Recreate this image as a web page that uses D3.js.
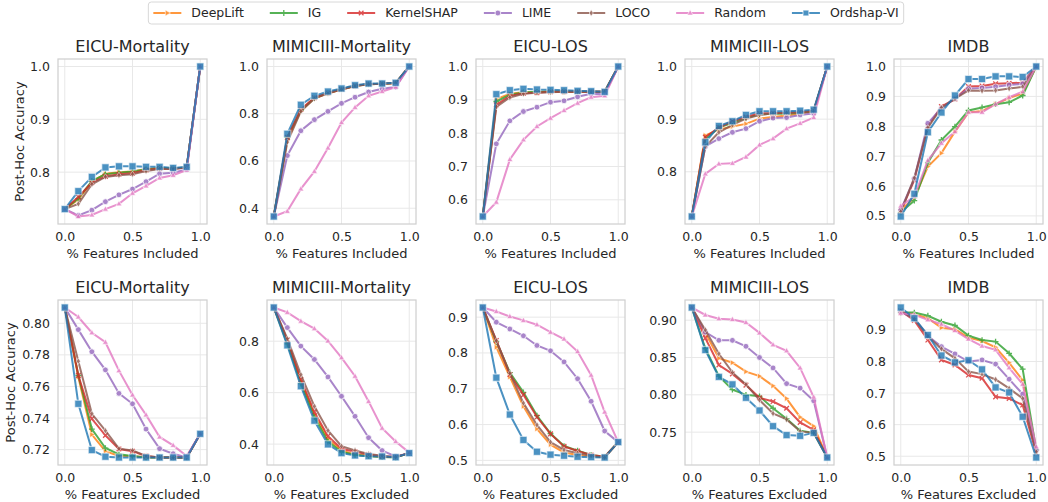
<!DOCTYPE html>
<html>
<head>
<meta charset="utf-8">
<script src="https://cdn.jsdelivr.net/npm/d3@7"></script>
<style>
  body { margin: 0; background: #fff; }
  svg { font-family: "DejaVu Sans", sans-serif; }
</style>
</head>
<body>
<svg id="chart" width="1048" height="502"></svg>
<script>
// fraction of features kept / removed
var fractions = [0, 0.1, 0.2, 0.3, 0.4, 0.5, 0.6, 0.7, 0.8, 0.9, 1.0];

var methods = ["DeepLift", "IG", "KernelSHAP", "LIME", "LOCO", "Random", "Ordshap-VI"];
var colors = ["#ff7f0e", "#2ca02c", "#d62728", "#9467bd", "#8c564b", "#e377c2", "#1f77b4"];
var markers = ["tri-right", "plus", "x", "circle", "diamond", "tri-up", "square"];

var datasets = ["EICU-Mortality", "MIMICIII-Mortality", "EICU-LOS", "MIMICIII-LOS", "IMDB"];

// ---- included (top row), one array per method, order as in methods ----
var incEicuMort = [
  [0.730, 0.748, 0.782, 0.797, 0.800, 0.801, 0.806, 0.808, 0.807, 0.809, 1.0],
  [0.730, 0.750, 0.783, 0.796, 0.799, 0.801, 0.805, 0.808, 0.807, 0.809, 1.0],
  [0.730, 0.753, 0.780, 0.792, 0.796, 0.798, 0.804, 0.807, 0.806, 0.809, 1.0],
  [0.730, 0.718, 0.728, 0.744, 0.757, 0.768, 0.782, 0.797, 0.799, 0.805, 1.0],
  [0.730, 0.740, 0.777, 0.791, 0.794, 0.796, 0.802, 0.806, 0.806, 0.809, 1.0],
  [0.730, 0.716, 0.719, 0.730, 0.740, 0.760, 0.774, 0.789, 0.794, 0.804, 1.0],
  [0.730, 0.764, 0.791, 0.809, 0.811, 0.811, 0.810, 0.810, 0.808, 0.810, 1.0]
];
var incMimicMort = [
  [0.365, 0.690, 0.812, 0.865, 0.887, 0.903, 0.917, 0.925, 0.927, 0.930, 1.0],
  [0.365, 0.700, 0.815, 0.866, 0.888, 0.904, 0.918, 0.925, 0.927, 0.930, 1.0],
  [0.365, 0.700, 0.818, 0.868, 0.888, 0.904, 0.918, 0.926, 0.927, 0.930, 1.0],
  [0.365, 0.623, 0.728, 0.775, 0.810, 0.844, 0.870, 0.892, 0.906, 0.913, 1.0],
  [0.365, 0.680, 0.810, 0.864, 0.886, 0.903, 0.917, 0.925, 0.927, 0.930, 1.0],
  [0.365, 0.387, 0.482, 0.556, 0.655, 0.763, 0.827, 0.876, 0.894, 0.913, 1.0],
  [0.365, 0.715, 0.838, 0.876, 0.894, 0.907, 0.921, 0.928, 0.928, 0.931, 1.0]
];
var incEicuLos = [
  [0.550, 0.902, 0.918, 0.923, 0.923, 0.925, 0.925, 0.924, 0.924, 0.924, 1.0],
  [0.550, 0.895, 0.915, 0.922, 0.924, 0.925, 0.925, 0.924, 0.924, 0.924, 1.0],
  [0.550, 0.885, 0.912, 0.920, 0.921, 0.924, 0.924, 0.924, 0.924, 0.924, 1.0],
  [0.550, 0.768, 0.837, 0.865, 0.878, 0.893, 0.897, 0.909, 0.918, 0.917, 1.0],
  [0.550, 0.879, 0.907, 0.918, 0.921, 0.923, 0.924, 0.924, 0.924, 0.924, 1.0],
  [0.550, 0.593, 0.721, 0.780, 0.820, 0.845, 0.868, 0.890, 0.908, 0.912, 1.0],
  [0.550, 0.917, 0.929, 0.933, 0.931, 0.930, 0.929, 0.927, 0.926, 0.924, 1.0]
];
var incMimicLos = [
  [0.715, 0.869, 0.880, 0.886, 0.891, 0.901, 0.904, 0.907, 0.910, 0.915, 1.0],
  [0.715, 0.862, 0.884, 0.893, 0.902, 0.909, 0.910, 0.910, 0.912, 0.915, 1.0],
  [0.715, 0.866, 0.884, 0.896, 0.904, 0.911, 0.911, 0.912, 0.913, 0.916, 1.0],
  [0.715, 0.848, 0.863, 0.875, 0.882, 0.896, 0.902, 0.903, 0.908, 0.911, 1.0],
  [0.715, 0.848, 0.875, 0.889, 0.901, 0.908, 0.911, 0.912, 0.913, 0.915, 1.0],
  [0.715, 0.796, 0.815, 0.816, 0.828, 0.851, 0.863, 0.882, 0.892, 0.903, 1.0],
  [0.715, 0.856, 0.887, 0.896, 0.908, 0.915, 0.915, 0.915, 0.916, 0.918, 1.0]
];
var incImdb = [
  [0.520, 0.560, 0.665, 0.710, 0.782, 0.846, 0.851, 0.874, 0.894, 0.910, 1.0],
  [0.512, 0.551, 0.678, 0.754, 0.799, 0.853, 0.863, 0.874, 0.880, 0.903, 1.0],
  [0.515, 0.620, 0.800, 0.866, 0.891, 0.933, 0.935, 0.942, 0.944, 0.946, 1.0],
  [0.520, 0.625, 0.810, 0.860, 0.893, 0.926, 0.928, 0.932, 0.938, 0.942, 1.0],
  [0.514, 0.627, 0.795, 0.862, 0.892, 0.920, 0.919, 0.920, 0.926, 0.932, 1.0],
  [0.533, 0.565, 0.686, 0.743, 0.782, 0.847, 0.847, 0.874, 0.897, 0.916, 1.0],
  [0.498, 0.574, 0.780, 0.846, 0.903, 0.958, 0.958, 0.967, 0.967, 0.965, 1.0]
];

// ---- excluded (bottom row) ----
var excEicuMort = [
  [0.810, 0.766, 0.7295, 0.719, 0.716, 0.716, 0.715, 0.715, 0.715, 0.715, 0.730],
  [0.810, 0.767, 0.733, 0.721, 0.717, 0.716, 0.715, 0.715, 0.715, 0.715, 0.730],
  [0.810, 0.767, 0.7395, 0.729, 0.7204, 0.719, 0.716, 0.715, 0.715, 0.715, 0.730],
  [0.810, 0.796, 0.782, 0.7705, 0.7556, 0.749, 0.733, 0.7206, 0.7174, 0.715, 0.730],
  [0.810, 0.776, 0.7427, 0.732, 0.7206, 0.7195, 0.716, 0.715, 0.715, 0.715, 0.730],
  [0.810, 0.804, 0.794, 0.788, 0.770, 0.7546, 0.742, 0.728, 0.7227, 0.716, 0.730],
  [0.810, 0.749, 0.7197, 0.7155, 0.715, 0.715, 0.715, 0.715, 0.715, 0.715, 0.730]
];
var excMimicMort = [
  [0.931, 0.800, 0.645, 0.515, 0.420, 0.375, 0.360, 0.355, 0.350, 0.350, 0.365],
  [0.931, 0.790, 0.635, 0.505, 0.410, 0.370, 0.358, 0.354, 0.350, 0.348, 0.365],
  [0.931, 0.805, 0.651, 0.525, 0.431, 0.382, 0.370, 0.360, 0.352, 0.350, 0.365],
  [0.931, 0.853, 0.781, 0.729, 0.661, 0.586, 0.508, 0.425, 0.375, 0.352, 0.365],
  [0.931, 0.810, 0.670, 0.547, 0.453, 0.392, 0.375, 0.362, 0.355, 0.350, 0.365],
  [0.931, 0.912, 0.878, 0.849, 0.801, 0.736, 0.664, 0.566, 0.462, 0.410, 0.367],
  [0.931, 0.784, 0.625, 0.491, 0.399, 0.365, 0.356, 0.353, 0.352, 0.349, 0.365]
];
var excEicuLos = [
  [0.927, 0.816, 0.733, 0.651, 0.588, 0.544, 0.522, 0.515, 0.512, 0.508, 0.551],
  [0.927, 0.832, 0.745, 0.690, 0.625, 0.575, 0.540, 0.527, 0.515, 0.510, 0.551],
  [0.927, 0.835, 0.740, 0.683, 0.621, 0.574, 0.539, 0.526, 0.515, 0.510, 0.551],
  [0.927, 0.886, 0.867, 0.848, 0.821, 0.806, 0.775, 0.728, 0.665, 0.582, 0.551],
  [0.927, 0.834, 0.743, 0.660, 0.599, 0.551, 0.529, 0.520, 0.513, 0.508, 0.551],
  [0.927, 0.916, 0.902, 0.891, 0.879, 0.858, 0.839, 0.804, 0.738, 0.635, 0.551],
  [0.927, 0.731, 0.628, 0.557, 0.524, 0.516, 0.513, 0.510, 0.509, 0.508, 0.551]
];
var excMimicLos = [
  [0.917, 0.883, 0.849, 0.843, 0.831, 0.825, 0.812, 0.795, 0.770, 0.758, 0.716],
  [0.917, 0.862, 0.825, 0.807, 0.800, 0.798, 0.782, 0.768, 0.752, 0.749, 0.716],
  [0.917, 0.876, 0.840, 0.828, 0.813, 0.796, 0.791, 0.782, 0.763, 0.753, 0.716],
  [0.917, 0.884, 0.873, 0.873, 0.865, 0.850, 0.836, 0.815, 0.809, 0.792, 0.716],
  [0.917, 0.887, 0.855, 0.830, 0.814, 0.793, 0.775, 0.767, 0.751, 0.749, 0.716],
  [0.917, 0.907, 0.902, 0.901, 0.897, 0.883, 0.867, 0.859, 0.836, 0.797, 0.716],
  [0.917, 0.860, 0.824, 0.814, 0.796, 0.779, 0.758, 0.746, 0.745, 0.749, 0.716]
];
var excImdb = [
  [0.955, 0.950, 0.937, 0.907, 0.902, 0.876, 0.865, 0.845, 0.796, 0.741, 0.520],
  [0.955, 0.955, 0.945, 0.926, 0.914, 0.882, 0.868, 0.863, 0.826, 0.776, 0.520],
  [0.960, 0.930, 0.868, 0.805, 0.789, 0.757, 0.747, 0.688, 0.683, 0.662, 0.510],
  [0.958, 0.935, 0.881, 0.847, 0.824, 0.800, 0.805, 0.792, 0.744, 0.697, 0.520],
  [0.960, 0.935, 0.880, 0.840, 0.810, 0.768, 0.760, 0.743, 0.715, 0.683, 0.514],
  [0.953, 0.948, 0.932, 0.918, 0.898, 0.871, 0.849, 0.837, 0.780, 0.728, 0.530],
  [0.971, 0.937, 0.884, 0.819, 0.797, 0.804, 0.775, 0.718, 0.702, 0.625, 0.496]
];

var topTicks = [[0.8, 0.9, 1.0], [0.4, 0.6, 0.8, 1.0], [0.6, 0.7, 0.8, 0.9, 1.0], [0.8, 0.9, 1.0], [0.5, 0.6, 0.7, 0.8, 0.9, 1.0]];
var bottomTicks = [[0.72, 0.74, 0.76, 0.78, 0.80], [0.4, 0.6, 0.8], [0.5, 0.6, 0.7, 0.8, 0.9], [0.75, 0.80, 0.85, 0.90], [0.5, 0.6, 0.7, 0.8, 0.9]];
var xTicks = [0.0, 0.5, 1.0];

var rows = [
  { data: [incEicuMort, incMimicMort, incEicuLos, incMimicLos, incImdb], ticks: topTicks, fmt: [".1f", ".1f", ".1f", ".1f", ".1f"], xlabel: "% Features Included", top: 59, ylabelX: 19 },
  { data: [excEicuMort, excMimicMort, excEicuLos, excMimicLos, excImdb], ticks: bottomTicks, fmt: [".2f", ".1f", ".1f", ".2f", ".1f"], xlabel: "% Features Excluded", top: 300, ylabelX: 10 }
];

var panelLefts = [58, 267, 476, 685, 894];
var panelW = 149, panelH = 165;
var textColor = "#262626";

var svg = d3.select("#chart");

// marker drawing helper
function drawMarker(g, type, color, x, y, big) {
  var s = big ? 3.6 : 2.9;
  if (type === "circle") {
    g.append("circle").attr("cx", x).attr("cy", y).attr("r", s)
      .attr("fill", color).attr("stroke", "#fff").attr("stroke-width", 0.8);
  } else if (type === "square") {
    g.append("rect").attr("x", x - s).attr("y", y - s).attr("width", 2 * s).attr("height", 2 * s)
      .attr("fill", color).attr("stroke", "#fff").attr("stroke-opacity", 0.6).attr("stroke-width", 1.2);
  } else if (type === "tri-up" || type === "tri-right") {
    var pts = type === "tri-up"
      ? [[x, y - s * 1.1], [x + s, y + s * 0.7], [x - s, y + s * 0.7]]
      : [[x + s * 1.1, y], [x - s * 0.7, y - s], [x - s * 0.7, y + s]];
    g.append("path").attr("d", "M" + pts.join("L") + "Z")
      .attr("fill", color).attr("stroke", "#fff").attr("stroke-width", 0.6);
  } else if (type === "diamond") {
    g.append("path").attr("d", "M" + [[x, y - s * 1.1], [x + s * 0.7, y], [x, y + s * 1.1], [x - s * 0.7, y]].join("L") + "Z")
      .attr("fill", color).attr("stroke", "#fff").attr("stroke-width", 0.6);
  } else if (type === "plus") {
    g.append("path").attr("d", "M" + (x - s) + "," + y + "H" + (x + s) + "M" + x + "," + (y - s) + "V" + (y + s))
      .attr("stroke", color).attr("stroke-width", 1.3).attr("fill", "none");
  } else if (type === "x") {
    var d = s * 0.8;
    g.append("path").attr("d", "M" + (x - d) + "," + (y - d) + "L" + (x + d) + "," + (y + d) + "M" + (x - d) + "," + (y + d) + "L" + (x + d) + "," + (y - d))
      .attr("stroke", color).attr("stroke-width", 1.3).attr("fill", "none");
  }
}

rows.forEach(function(row, ri) {
  row.data.forEach(function(series, pi) {
    var left = panelLefts[pi], top = row.top;
    var allVals = [].concat.apply([], series);
    var ext = d3.extent(allVals);
    var pad = (ext[1] - ext[0]) * 0.05;
    var x = d3.scaleLinear().domain([-0.05, 1.05]).range([left, left + panelW]);
    var y = d3.scaleLinear().domain([ext[0] - pad, ext[1] + pad]).range([top + panelH, top]);

    var g = svg.append("g");

    // grid
    g.selectAll(".gx").data(xTicks).enter().append("line")
      .attr("x1", function(d) { return x(d); }).attr("x2", function(d) { return x(d); })
      .attr("y1", top).attr("y2", top + panelH)
      .attr("stroke", "#e8e8e8").attr("stroke-width", 1);
    g.selectAll(".gy").data(row.ticks[pi]).enter().append("line")
      .attr("x1", left).attr("x2", left + panelW)
      .attr("y1", function(d) { return y(d); }).attr("y2", function(d) { return y(d); })
      .attr("stroke", "#e8e8e8").attr("stroke-width", 1);

    // axes (tick labels only, seaborn whitegrid has no tick marks)
    var yAxis = d3.axisLeft(y).tickValues(row.ticks[pi]).tickFormat(d3.format(row.fmt[pi])).tickSize(0).tickPadding(8);
    var ya = g.append("g").attr("transform", "translate(" + left + ",0)").call(yAxis);
    var xAxis = d3.axisBottom(x).tickValues(xTicks).tickFormat(d3.format(".1f")).tickSize(0).tickPadding(8);
    var xa = g.append("g").attr("transform", "translate(0," + (top + panelH) + ")").call(xAxis);
    [ya, xa].forEach(function(a) {
      a.select(".domain").remove();
      a.selectAll("text").attr("fill", textColor).style("font-size", "12.5px")
        .style("font-family", "DejaVu Sans");
    });

    // frame
    g.append("rect").attr("x", left).attr("y", top).attr("width", panelW).attr("height", panelH)
      .attr("fill", "none").attr("stroke", "#d0d0d0").attr("stroke-width", 1.25);

    // lines and markers
    var line = d3.line().x(function(d, i) { return x(fractions[i]); }).y(function(d) { return y(d); });
    series.forEach(function(vals, mi) {
      var sg = g.append("g").attr("opacity", 0.8);
      sg.append("path").datum(vals).attr("d", line)
        .attr("fill", "none").attr("stroke", colors[mi]).attr("stroke-width", 2);
      vals.forEach(function(v, i) {
        drawMarker(sg, markers[mi], colors[mi], x(fractions[i]), y(v), mi === 6);
      });
    });

    // title
    g.append("text").attr("x", left + panelW / 2).attr("y", top - 7)
      .attr("text-anchor", "middle").attr("fill", textColor).style("font-size", "16px")
      .text(datasets[pi]);

    // x label
    g.append("text").attr("x", left + panelW / 2).attr("y", top + panelH + 34)
      .attr("text-anchor", "middle").attr("fill", textColor).style("font-size", "13px")
      .text(row.xlabel);

    // y label on first column
    if (pi === 0) {
      g.append("text")
        .attr("transform", "translate(" + row.ylabelX + "," + (top + panelH / 2) + ") rotate(-90)")
        .attr("text-anchor", "middle").attr("dy", "0.35em").attr("fill", textColor).style("font-size", "13px")
        .text("Post-Hoc Accuracy");
    }
  });
});

// legend
var legend = svg.append("g");
var box = legend.append("rect").attr("y", 2).attr("height", 22).attr("rx", 3)
  .attr("fill", "#fff").attr("stroke", "#d8d8d8").attr("stroke-width", 1);
var cx = 0;
methods.forEach(function(m, mi) {
  var it = legend.append("g").attr("class", "item").attr("data-x", cx);
  var ig = it.append("g").attr("opacity", 0.8);
  ig.append("line").attr("x1", 0).attr("x2", 28).attr("stroke", colors[mi]).attr("stroke-width", 2);
  drawMarker(ig, markers[mi], colors[mi], 14, 0, false);
  var t = it.append("text").attr("x", 38).attr("dy", "0.35em").attr("fill", textColor)
    .style("font-size", "12.5px").text(m);
  var w = t.node().getComputedTextLength();
  cx += 38 + w + 26;
});
var totalW = cx - 26;
var startX = 526 - totalW / 2;
legend.selectAll("g.item").attr("transform", function() {
  return "translate(" + (+this.getAttribute("data-x") + startX) + ",13)";
});
box.attr("x", startX - 5).attr("width", totalW + 10);
</script>
</body>
</html>
